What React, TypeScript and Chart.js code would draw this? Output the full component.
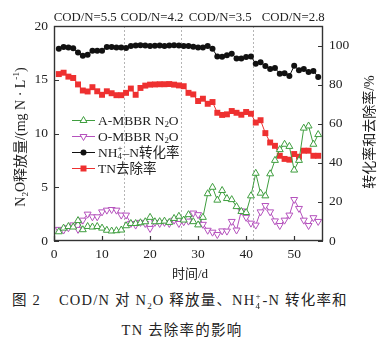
import React, { useEffect, useRef } from 'react';
import { Chart, registerables } from 'chart.js';

Chart.register(...registerables);

// ---------------- data ----------------
const days = [
  1, 2, 3, 4, 5, 6, 7, 8, 9, 10, 11, 12, 13, 14, 15, 16, 17, 18, 19, 20,
  21, 22, 23, 24, 25, 26, 27, 28, 29, 30, 31, 32, 33, 34, 35, 36, 37, 38, 39, 40,
  41, 42, 43, 44, 45, 46, 47, 48, 49, 50, 51, 52, 53, 54, 55,
];

// A-MBBR N2O release (mg N/L), left axis
const aMbbrN2O = [
  0.86, 1.2, 1.35, 1.3, 1.9, 1.05, 1.35, 1.3, 1.35, 1.2, 1.0, 0.93, 0.96, 1.02, 1.42, 1.63, 1.63, 1.7, 1.79, 2.2,
  1.79, 1.8, 1.85, 1.73, 2.1, 2.3, 1.95, 2.45, 1.8, 1.5, 2.2, 4.4, 5.0, 3.8, 4.7, 3.95, 3.85, 3.2, 2.75, 2.65,
  4.2, 6.3, 4.45, 4.2, 6.25, 7.5, 8.5, 9.0, 8.8, 6.6, 7.5, 10.5, 10.7, 9.0, 9.9,
];

// O-MBBR N2O release (mg N/L), left axis
const oMbbrN2O = [
  1.08, 1.02, 1.23, 1.5, 1.08, 1.94, 2.5, 2.25, 2.25, 2.71, 2.87, 2.93, 2.87, 2.41, 2.41, 1.63, 1.48, 1.73, 1.63, 1.17,
  1.73, 1.63, 1.73, 1.63, 1.94, 1.63, 1.79, 1.85, 2.6, 2.45, 1.55, 1.0, 0.82, 0.6, 0.94, 0.92, 1.82, 1.02, 2.8, 2.2,
  1.66, 1.48, 2.71, 3.3, 2.71, 1.87, 1.44, 1.94, 2.41, 3.86, 3.03, 1.94, 1.44, 2.17, 1.82,
];

// NH4+-N conversion (%), right axis
const nh4Conversion = [
  98.3, 99.3, 99, 98.6, 96.4, 94.8, 95.3, 97.4, 97.4, 97.4, 99.3, 99.3, 99, 99, 98.8, 99.8, 100, 100.2, 100, 99.8,
  99.9, 100, 99.8, 100, 100.1, 100, 99.8, 99.8, 99.4, 99, 99, 99.8, 98.3, 94.4, 94.3, 95, 95.8, 93.4, 93.4, 94.2,
  94.4, 90.7, 91.5, 89.5, 88, 88.5, 85.6, 85.8, 84.4, 89.6, 87.3, 88, 86.5, 87, 83.9,
];

// TN removal (%), right axis
const tnRemoval = [
  85.4, 86.1, 84.1, 83.4, 80.1, 77, 76.5, 78.7, 76.6, 74.8, 76.6, 75.6, 74.6, 74.6, 75.8, 78, 74.8, 78.3, 79.5, 80,
  80.1, 80.2, 80.2, 80.3, 80, 79.6, 79.2, 75.8, 75, 71.6, 72.8, 70.2, 71.1, 65.6, 64.5, 64.8, 66.5, 65.6, 64.6, 66,
  65.1, 60.6, 61.8, 55.2, 50.4, 48.7, 43.6, 42, 41.6, 44.5, 43.1, 46.2, 46.2, 43.6, 43.6,
];

const xTicks = [0, 10, 20, 30, 40, 50];
const leftTicks = [0, 5, 10, 15, 20];
const rightTicks = [0, 20, 40, 60, 80, 100];
const phaseBounds = [14.6, 26.5, 41.5];
const phaseLabels = ['COD/N=5.5', 'COD/N=4.2', 'COD/N=3.5', 'COD/N=2.8'];
const phaseLabelAt = [6.5, 20.4, 34.6, 49.8];
const seriesNames = ['A-MBBR N2O', 'O-MBBR N2O', 'NH4+-N转化率', 'TN去除率'];

// ---------------- style ----------------
const GREEN = '#3f9e3f';
const PURPLE = '#b552bd';
const BLACK = '#111111';
const RED = '#ee3030';
const AXIS = '#333333';
const SERIF = '"Liberation Serif", "Times New Roman", "Noto Sans CJK SC", serif';
const font = (s: number) => `${s}px ${SERIF}`;

type Seg = { k: 'n' | 'sub' | 'sup' | 'ss'; t: string; t2?: string };

function segWidth(ctx: CanvasRenderingContext2D, s: Seg, size: number) {
  const small = size * 0.66;
  if (s.k === 'n') {
    ctx.font = font(size);
    return ctx.measureText(s.t).width;
  }
  ctx.font = font(small);
  if (s.k === 'ss') return Math.max(ctx.measureText(s.t).width, ctx.measureText(s.t2 || '').width);
  return ctx.measureText(s.t).width;
}

function drawRich(
  ctx: CanvasRenderingContext2D,
  segs: Seg[],
  x: number,
  y: number,
  size: number,
  align: 'left' | 'center',
) {
  const ws = segs.map((s) => segWidth(ctx, s, size));
  const total = ws.reduce((a, b) => a + b, 0);
  let cx = align === 'center' ? x - total / 2 : x;
  const small = size * 0.66;
  ctx.textAlign = 'left';
  ctx.textBaseline = 'alphabetic';
  segs.forEach((s, i) => {
    if (s.k === 'n') {
      ctx.font = font(size);
      ctx.fillText(s.t, cx, y);
    } else if (s.k === 'sub') {
      ctx.font = font(small);
      ctx.fillText(s.t, cx, y + size * 0.22);
    } else if (s.k === 'sup') {
      ctx.font = font(small);
      ctx.fillText(s.t, cx, y - size * 0.4);
    } else {
      ctx.font = font(small);
      ctx.fillText(s.t, cx, y + size * 0.22);
      ctx.fillText(s.t2 || '', cx, y - size * 0.42);
    }
    cx += ws[i];
  });
}

function drawMarker(ctx: CanvasRenderingContext2D, style: string, x: number, y: number, color: string) {
  ctx.save();
  ctx.lineWidth = 1;
  ctx.strokeStyle = color;
  ctx.fillStyle = color;
  ctx.beginPath();
  if (style === 'circle') {
    ctx.arc(x, y, 3, 0, Math.PI * 2);
    ctx.fill();
  } else if (style === 'rect') {
    ctx.rect(x - 3, y - 3, 6, 6);
    ctx.fill();
  } else {
    const r = 4;
    const dir = style === 'triDown' ? -1 : 1;
    ctx.moveTo(x, y - dir * r);
    ctx.lineTo(x + r * 0.866, y + dir * r * 0.5);
    ctx.lineTo(x - r * 0.866, y + dir * r * 0.5);
    ctx.closePath();
    ctx.fillStyle = '#ffffff';
    ctx.fill();
    ctx.stroke();
  }
  ctx.restore();
}

const legendRows: { segs: Seg[]; color: string; style: string }[] = [
  { segs: [{ k: 'n', t: 'A-MBBR N' }, { k: 'sub', t: '2' }, { k: 'n', t: 'O' }], color: GREEN, style: 'triUp' },
  { segs: [{ k: 'n', t: 'O-MBBR N' }, { k: 'sub', t: '2' }, { k: 'n', t: 'O' }], color: PURPLE, style: 'triDown' },
  { segs: [{ k: 'n', t: 'NH' }, { k: 'ss', t: '4', t2: '+' }, { k: 'n', t: '–N转化率' }], color: BLACK, style: 'circle' },
  { segs: [{ k: 'n', t: 'TN去除率' }], color: RED, style: 'rect' },
];

const overlay = {
  id: 'overlay',
  beforeDatasetsDraw(chart: any) {
    const { ctx, chartArea: a, scales } = chart;
    ctx.save();
    ctx.strokeStyle = '#b5b5b5';
    ctx.lineWidth = 1;
    ctx.setLineDash([2, 2]);
    for (const v of phaseBounds) {
      const x = Math.round(scales.x.getPixelForValue(v)) + 0.5;
      ctx.beginPath();
      ctx.moveTo(x, a.top);
      ctx.lineTo(x, a.bottom);
      ctx.stroke();
    }
    ctx.restore();
  },
  afterDraw(chart: any) {
    const { ctx, chartArea: a, scales } = chart;
    ctx.save();
    // frame
    ctx.strokeStyle = AXIS;
    ctx.lineWidth = 1.4;
    ctx.strokeRect(a.left + 0.5, a.top + 0.5, a.right - a.left - 1, a.bottom - a.top - 1);
    // inward ticks
    ctx.lineWidth = 1.2;
    ctx.beginPath();
    for (const v of leftTicks) {
      const y = Math.round(scales.yL.getPixelForValue(v)) + 0.5;
      ctx.moveTo(a.left, y);
      ctx.lineTo(a.left + 5, y);
    }
    for (const v of rightTicks) {
      const y = Math.round(scales.yR.getPixelForValue(v)) + 0.5;
      ctx.moveTo(a.right, y);
      ctx.lineTo(a.right - 5, y);
    }
    for (const v of xTicks) {
      const x = Math.round(scales.x.getPixelForValue(v)) + 0.5;
      ctx.moveTo(x, a.bottom);
      ctx.lineTo(x, a.bottom - 5);
    }
    ctx.stroke();

    ctx.fillStyle = '#222222';
    // phase labels
    phaseLabels.forEach((t, i) => {
      const x = scales.x.getPixelForValue(phaseLabelAt[i]);
      drawRich(ctx, [{ k: 'n', t }], x, 21, 12.8, 'center');
    });

    // left title
    ctx.save();
    ctx.translate(20, 137);
    ctx.rotate(-Math.PI / 2);
    drawRich(
      ctx,
      [
        { k: 'n', t: 'N' },
        { k: 'sub', t: '2' },
        { k: 'n', t: 'O释放量/(mg N · L' },
        { k: 'sup', t: '-1' },
        { k: 'n', t: ')' },
      ],
      0,
      5,
      14,
      'center',
    );
    ctx.restore();

    // right title (reads bottom to top)
    ctx.save();
    ctx.translate(369, 132);
    ctx.rotate(-Math.PI / 2);
    drawRich(ctx, [{ k: 'n', t: '转化率和去除率/%' }], 0, 5, 14, 'center');
    ctx.restore();

    // x title
    drawRich(ctx, [{ k: 'n', t: '时间/d' }], 190, 278, 13, 'center');

    // legend
    const rowY = [120, 136, 152, 168];
    legendRows.forEach((r, i) => {
      const y = rowY[i];
      ctx.save();
      ctx.strokeStyle = r.color;
      ctx.lineWidth = 1;
      ctx.beginPath();
      ctx.moveTo(72, y + 0.5);
      ctx.lineTo(95, y + 0.5);
      ctx.stroke();
      ctx.restore();
      drawMarker(ctx, r.style, 83.5, y + 0.5, r.color);
      ctx.fillStyle = '#222222';
      drawRich(ctx, r.segs, 98, y + 4.5, 13.5, 'left');
    });
    ctx.restore();
  },
};

function Stack({ sub, sup }: { sub: string; sup: string }) {
  return (
    <span style={{ display: 'inline-block', position: 'relative', width: 7, height: 10 }}>
      <span style={{ position: 'absolute', left: 0, top: -9, fontSize: 9 }}>{sup}</span>
      <span style={{ position: 'absolute', left: 0, top: 1, fontSize: 9 }}>{sub}</span>
    </span>
  );
}

export default function App() {
  const ref = useRef<HTMLCanvasElement>(null);

  useEffect(() => {
    const mk = (v: number[]) => days.map((d, i) => ({ x: d, y: v[i] }));
    const chart = new Chart(ref.current as HTMLCanvasElement, {
      type: 'line',
      data: {
        datasets: [
          {
            label: seriesNames[0],
            data: mk(aMbbrN2O),
            yAxisID: 'yL',
            borderColor: GREEN,
            backgroundColor: '#ffffff',
            borderWidth: 1,
            pointStyle: 'triangle',
            pointRadius: 4,
            pointBorderWidth: 1,
            pointBorderColor: GREEN,
            pointBackgroundColor: '#ffffff',
          },
          {
            label: seriesNames[1],
            data: mk(oMbbrN2O),
            yAxisID: 'yL',
            borderColor: PURPLE,
            backgroundColor: '#ffffff',
            borderWidth: 1,
            pointStyle: 'triangle',
            pointRotation: 180,
            pointRadius: 4,
            pointBorderWidth: 1,
            pointBorderColor: PURPLE,
            pointBackgroundColor: '#ffffff',
          },
          {
            label: seriesNames[2],
            data: mk(nh4Conversion),
            yAxisID: 'yR',
            borderColor: BLACK,
            backgroundColor: BLACK,
            borderWidth: 1,
            pointStyle: 'circle',
            pointRadius: 3,
            pointBorderWidth: 0,
            pointBackgroundColor: BLACK,
          },
          {
            label: seriesNames[3],
            data: mk(tnRemoval),
            yAxisID: 'yR',
            borderColor: RED,
            backgroundColor: RED,
            borderWidth: 1,
            pointStyle: 'rect',
            pointRadius: 4.2,
            pointBorderWidth: 0,
            pointBackgroundColor: RED,
          },
        ],
      },
      options: {
        animation: false,
        responsive: false,
        devicePixelRatio: 1,
        layout: { padding: { top: 26, left: 0, right: 0, bottom: 0 }, autoPadding: false },
        plugins: { legend: { display: false }, tooltip: { enabled: false }, title: { display: false } },
        elements: { line: { tension: 0 } },
        scales: {
          x: {
            type: 'linear',
            min: 0,
            max: 56,
            grid: { display: false, drawTicks: false },
            border: { display: false },
            ticks: { font: { family: SERIF, size: 13.5 }, color: '#222', padding: 5, maxRotation: 0 },
            afterBuildTicks: (s: any) => {
              s.ticks = xTicks.map((v) => ({ value: v }));
            },
            afterFit: (s: any) => {
              s.height = 49;
            },
          },
          yL: {
            type: 'linear',
            position: 'left',
            min: 0,
            max: 20,
            grid: { display: false, drawTicks: false },
            border: { display: false },
            ticks: { font: { family: SERIF, size: 13.5 }, color: '#222', padding: 6 },
            afterBuildTicks: (s: any) => {
              s.ticks = leftTicks.map((v) => ({ value: v }));
            },
            afterFit: (s: any) => {
              s.width = 54;
            },
          },
          yR: {
            type: 'linear',
            position: 'right',
            min: 0,
            max: 110,
            grid: { display: false, drawTicks: false },
            border: { display: false },
            ticks: { font: { family: SERIF, size: 13.5 }, color: '#222', padding: 6 },
            afterBuildTicks: (s: any) => {
              s.ticks = rightTicks.map((v) => ({ value: v }));
            },
            afterFit: (s: any) => {
              s.width = 62;
            },
          },
        },
      },
      plugins: [overlay],
    } as any);
    return () => chart.destroy();
  }, []);

  const capStyle: React.CSSProperties = {
    position: 'absolute',
    fontFamily: SERIF,
    fontSize: 14.5,
    letterSpacing: 1.2,
    color: '#222',
    whiteSpace: 'nowrap',
    lineHeight: '20px',
  };
  const sub: React.CSSProperties = { fontSize: 9, position: 'relative', top: 4 };

  return (
    <div style={{ position: 'absolute', left: 0, top: 0, width: 385, height: 346, background: '#ffffff' }}>
      <canvas
        ref={ref}
        width={385}
        height={290}
        style={{ position: 'absolute', left: 0, top: 0, width: 385, height: 290 }}
      />
      <div style={{ ...capStyle, left: 12, top: 290 }}>
        图 2<span style={{ display: 'inline-block', width: 18 }} />
        COD/N 对 N<span style={sub}>2</span>O 释放量、NH
        <Stack sub="4" sup="+" />
        -N 转化率和
      </div>
      <div style={{ ...capStyle, left: 0, width: 364, textAlign: 'center', top: 320 }}>TN 去除率的影响</div>
    </div>
  );
}
